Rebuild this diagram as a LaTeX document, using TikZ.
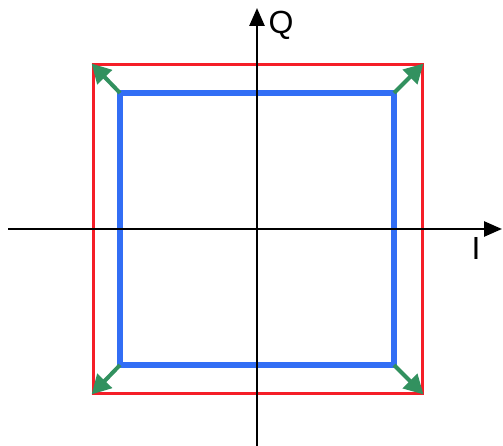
\documentclass[tikz,border=0pt]{standalone}
\usepackage{fontspec}
\setmainfont{Liberation Sans}
\usetikzlibrary{arrows.meta}
\definecolor{sqred}{RGB}{245,30,40}
\definecolor{sqblue}{RGB}{50,110,245}
\definecolor{arrgreen}{RGB}{50,145,95}
\tikzset{
  axis/.style={line width=2.6pt,-{Triangle[length=18pt,width=15pt]}},
  outer/.style={draw=sqred,line width=3pt},
  inner/.style={draw=sqblue,line width=5.5pt},
  shift arrow/.style={arrgreen,line width=4pt,-{Triangle[length=19pt,width=20pt]},shorten >=-2pt},
  axlabel/.style={font=\fontsize{32}{32}\selectfont,inner sep=0pt}
}
\begin{document}
\begin{tikzpicture}[x=1pt,y=-1pt]
\useasboundingbox (0,0) rectangle (503,446);

% corners of the two squares
\coordinate (r1) at (93,65);
\coordinate (r2) at (422,65);
\coordinate (r3) at (422,393);
\coordinate (r4) at (93,393);
\coordinate (b1) at (120,93);
\coordinate (b2) at (394,93);
\coordinate (b3) at (394,365);
\coordinate (b4) at (120,365);

\draw[outer] (r1) -- (r2) -- (r3) -- (r4) -- cycle;
\draw[inner] (b1) -- (b2) -- (b3) -- (b4) -- cycle;

% axes
\coordinate (xs) at (8,229);
\coordinate (xe) at (502,229);
\coordinate (ys) at (257,446);
\coordinate (ye) at (257,8);
\draw[axis] (xs) -- (xe);
\draw[axis] (ys) -- (ye);
\node[axlabel] (qlab) at (281,25) {Q};
\node[axlabel] (ilab) at (476,248) {I};

% green arrows
\foreach \k in {1,...,4}
  \draw[shift arrow] (b\k) -- (r\k);

\end{tikzpicture}
\end{document}
